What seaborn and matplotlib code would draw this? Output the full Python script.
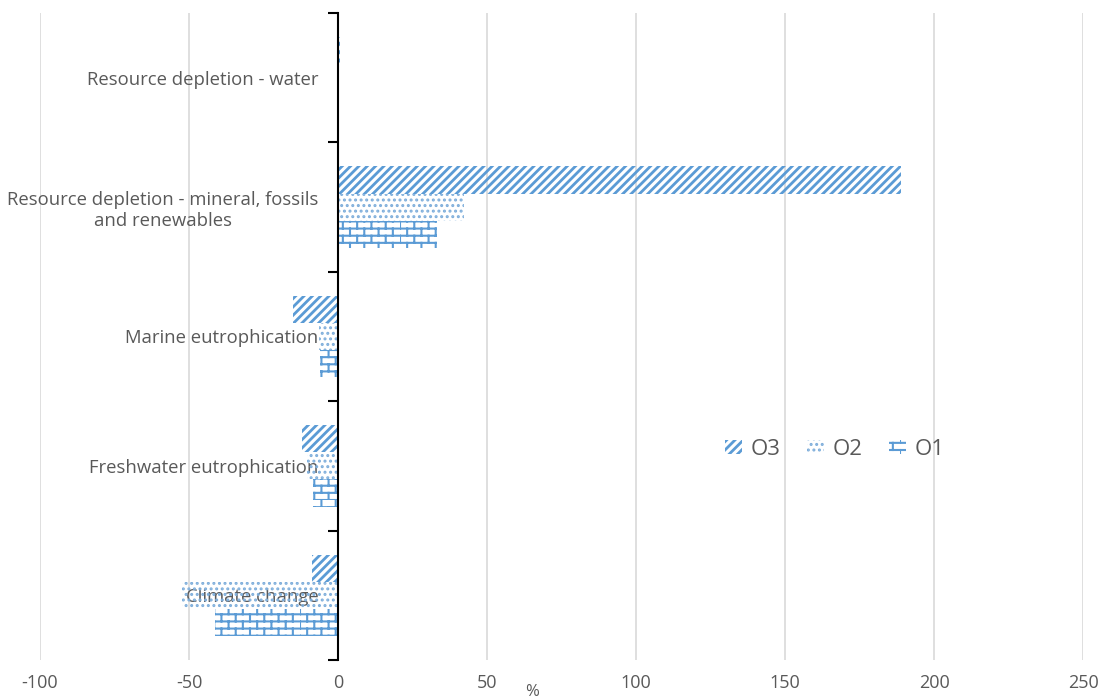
import matplotlib
matplotlib.use("Agg")
import numpy as np
import pandas as pd
import matplotlib.pyplot as plt
import matplotlib.hatch as mhatch
from matplotlib.path import Path
from matplotlib.patches import Patch
import seaborn as sns

# ---- data -------------------------------------------------------------
categories = [
    "Resource depletion - water",
    "Resource depletion - mineral, fossils\nand renewables",
    "Marine eutrophication",
    "Freshwater eutrophication",
    "Climate change",
]
series = ["O3", "O2", "O1"]
o3_values = [0.8, 188.9, -15.1, -12.1, -8.7]
o2_values = [0.5, 42.3, -6.4, -10.4, -52.3]
o1_values = [0.2, 33.2, -6.0, -8.4, -41.4]
x_ticks = [-100, -50, 0, 50, 100, 150, 200, 250]
unit_label = "%"

BLUE = "#5b9bd5"
DOT = "#7eaedb"
TEXT = "#595959"
GRID = "#d9d9d9"


# ---- brick hatch (registered on the 'o' hatch character) --------------
class BrickHatch(mhatch.HatchPatternBase):
    rows = 14
    bricks = 7

    def __init__(self, hatch, density):
        self.on = hatch.count("o") > 0
        if self.on:
            self.num_vertices = self.rows * 2 + self.rows * self.bricks * 2
        else:
            self.num_vertices = 0

    def set_vertices_and_codes(self, vertices, codes):
        k = 0
        h = 1.0 / self.rows
        w = 1.0 / self.bricks
        for i in range(self.rows):
            y0 = i * h
            vertices[k] = (0.0, y0); codes[k] = Path.MOVETO; k += 1
            vertices[k] = (1.0, y0); codes[k] = Path.LINETO; k += 1
            off = 0.5 * w if i % 2 else 0.0
            for j in range(self.bricks):
                x = j * w + off
                vertices[k] = (x, y0); codes[k] = Path.MOVETO; k += 1
                vertices[k] = (x, y0 + h); codes[k] = Path.LINETO; k += 1


mhatch._hatch_types[:] = [t for t in mhatch._hatch_types
                          if t is not mhatch.SmallCircles] + [BrickHatch]

hatches = {"O3": "////", "O2": "...", "O1": "o"}
hatch_colors = {"O3": BLUE, "O2": DOT, "O1": BLUE}
hatch_widths = {"O3": 2.0, "O2": 1.4, "O1": 1.5}

# ---- frame -------------------------------------------------------------
sns.set_theme(style="white")
plt.rcParams["font.family"] = ["Open Sans", "DejaVu Sans"]
plt.rcParams["hatch.linewidth"] = 1.6

df = pd.DataFrame({
    "category": categories * 3,
    "series": [s for s in series for _ in categories],
    "value": o3_values + o2_values + o1_values,
})

fig = plt.figure(figsize=(11.01, 6.99), dpi=100)
ax = fig.add_axes([0.0363, 0.0558, 0.9474, 0.9256])

sns.barplot(data=df, x="value", y="category", hue="series",
            order=categories, hue_order=series, orient="h",
            width=0.63, palette=["white"] * 3, errorbar=None,
            legend=False, ax=ax)


def style_patch(p, name):
    p.set_facecolor("none")
    p.set_edgecolor(hatch_colors[name])
    p.set_linewidth(0)
    p.set_hatch(hatches[name])
    if hasattr(p, "set_hatch_linewidth"):
        p.set_hatch_linewidth(hatch_widths[name])


for cont, name in zip(ax.containers, series):
    for bar in cont:
        style_patch(bar, name)

# x axis
ax.set_xlim(x_ticks[0], x_ticks[-1])
ax.set_xticks(x_ticks)
ax.set_xticklabels([str(v) for v in x_ticks])
ax.tick_params(axis="x", length=0, pad=10, labelsize=13, labelcolor=TEXT)
ax.set_xlabel("")
ax.grid(axis="x", color=GRID, linewidth=1.2)
ax.grid(axis="y", visible=False)
ax.set_axisbelow(True)

# y axis drawn through zero
ax.set_ylim(len(categories) - 0.5, -0.5)
ax.set_yticks(np.arange(-0.5, len(categories), 1.0))
ax.set_yticklabels([])
ax.set_yticks(np.arange(len(categories)), labels=categories, minor=True,
              multialignment="center")
ax.tick_params(axis="y", which="major", length=7, width=1.5,
               color="black", direction="out", left=True)
ax.tick_params(axis="y", which="minor", length=0, pad=14,
               labelsize=13.3, labelcolor=TEXT)
ax.set_ylabel("")

for side in ("top", "right", "bottom"):
    ax.spines[side].set_visible(False)
ax.spines["left"].set_position(("data", 0))
ax.spines["left"].set_color("black")
ax.spines["left"].set_linewidth(1.5)

fig.text(532 / 1101, 1 - 692 / 699, unit_label, fontsize=12,
         color=TEXT, ha="center", va="center")

handles = []
for s in series:
    h = Patch(facecolor="none", edgecolor=hatch_colors[s], linewidth=0,
              hatch=hatches[s], label=s)
    handles.append(h)
leg = ax.legend(handles=handles, loc="center", bbox_to_anchor=(0.762, 0.325),
                ncol=3, frameon=False, fontsize=16, labelcolor=TEXT,
                handlelength=0.75, handleheight=0.6, handletextpad=0.4,
                columnspacing=1.2)
for p, s in zip(leg.get_patches(), series):
    style_patch(p, s)

fig.canvas.draw()
for lab in ax.get_yticklabels(minor=True):
    lab.set_multialignment("center")

fig.savefig("out.png", dpi=100)
